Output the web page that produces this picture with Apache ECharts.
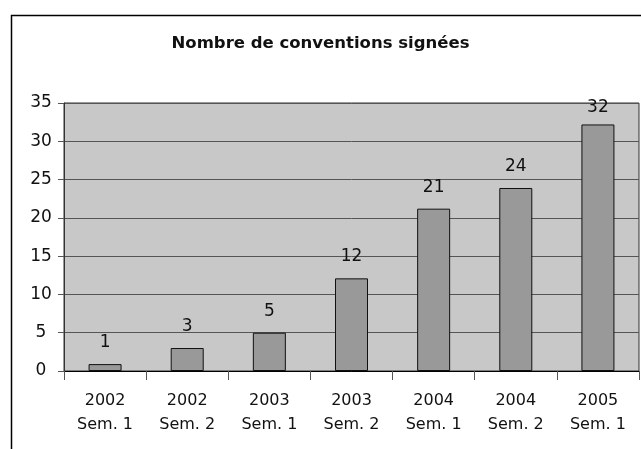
<!DOCTYPE html>
<html>
<head>
<meta charset="utf-8">
<script src="https://cdn.jsdelivr.net/npm/echarts@6/dist/echarts.min.js"></script>
<style>
  html, body { margin: 0; padding: 0; background: #fff; }
  #chart { width: 641px; height: 449px; }
</style>
</head>
<body>
<div id="chart"></div>
<script>
const years = ['2002', '2002', '2003', '2003', '2004', '2004', '2005'];
const semesters = ['Sem. 1', 'Sem. 2', 'Sem. 1', 'Sem. 2', 'Sem. 1', 'Sem. 2', 'Sem. 1'];
const counts = [0.9, 3, 5, 12.1, 21.2, 23.9, 32.2];
const countLabels = ['1', '3', '5', '12', '21', '24', '32'];
const yTicks = { min: 0, max: 35, step: 5 };

const font = 'DejaVu Sans';
const categories = years.map((y, i) => y + '\n' + semesters[i]);

const chart = echarts.init(document.getElementById('chart'), null, { renderer: 'canvas' });

chart.setOption({
  backgroundColor: '#fff',
  animation: false,
  // outer chart frame, cropped on the right and bottom like the source
  graphic: [{
    type: 'rect',
    left: 9,
    top: 13,
    shape: { width: 700, height: 500 },
    style: { fill: 'none', stroke: '#000', lineWidth: 1.5 },
    z: -10
  }],
  title: {
    text: 'Nombre de conventions signées',
    left: 'center',
    top: 30,
    textStyle: { fontFamily: font, fontSize: 16.5, fontWeight: 'bold', color: '#111' }
  },
  grid: {
    left: 64, top: 103, right: 2, bottom: 78,
    show: true,
    backgroundColor: '#c8c8c8',
    borderColor: '#333',
    borderWidth: 1
  },
  xAxis: {
    type: 'category',
    data: categories,
    axisLine: { show: true, lineStyle: { color: '#000', width: 1 } },
    axisTick: { show: true, length: 9, lineStyle: { color: '#555' } },
    axisLabel: {
      fontFamily: font, fontSize: 16, color: '#111',
      lineHeight: 24, margin: 18, interval: 0
    }
  },
  yAxis: {
    type: 'value',
    min: yTicks.min,
    max: yTicks.max,
    interval: yTicks.step,
    axisLine: { show: true, lineStyle: { color: '#333' } },
    axisTick: { show: true, length: 6, lineStyle: { color: '#555' } },
    axisLabel: {
      fontFamily: font, fontSize: 17, color: '#111',
      align: 'center', margin: 23
    },
    splitLine: { show: true, lineStyle: { color: '#555', width: 1 } }
  },
  series: [{
    type: 'bar',
    data: counts.map((v, i) => ({
      value: v,
      label: i === counts.length - 1 ? { distance: 8 } : undefined
    })),
    barWidth: 33,
    itemStyle: { color: '#999999', borderColor: '#111', borderWidth: 1 },
    label: {
      show: true,
      position: 'top',
      distance: 13,
      fontFamily: font,
      fontSize: 17,
      color: '#111',
      formatter: (p) => countLabels[p.dataIndex]
    }
  }]
});
</script>
</body>
</html>
